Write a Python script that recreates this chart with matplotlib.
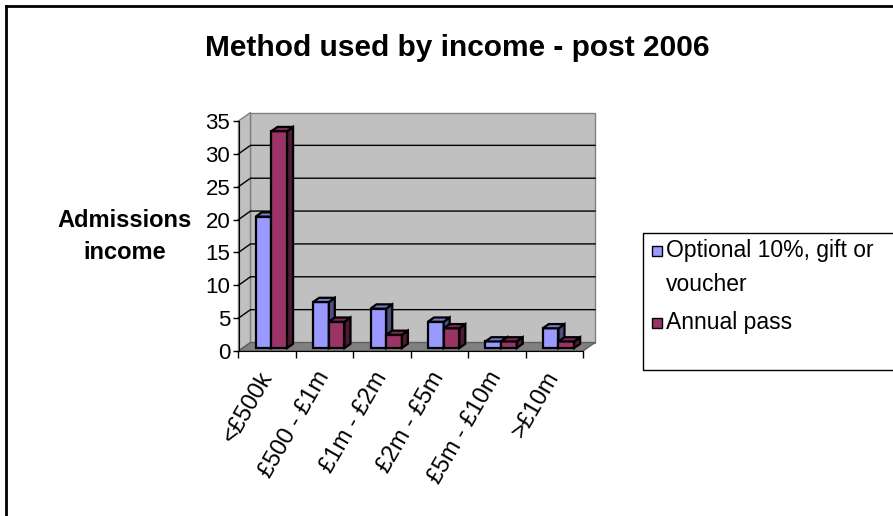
"""Clustered 3D-style bar chart: method used by income, post 2006."""

import matplotlib

matplotlib.use("Agg")
import matplotlib.pyplot as plt
import numpy as np
from matplotlib.lines import Line2D
from matplotlib.patches import Polygon, Rectangle

plt.rcParams["font.family"] = ["Liberation Sans", "DejaVu Sans"]

# Data
categories = ["<£500k", "£500 - £1m", "£1m - £2m", "£2m - £5m", "£5m - £10m", ">£10m"]
series_names = ["Optional 10%, gift or\nvoucher", "Annual pass"]
optional_values = [20, 7, 6, 4, 1, 3]
annual_values = [33, 4, 2, 3, 1, 1]
y_ticks = [0, 5, 10, 15, 20, 25, 30, 35]

# Excel-like colours: front face, side face, top face
front_colors = ["#9999FF", "#9A3366"]
side_colors = ["#4D4D80", "#4D1A33"]
top_colors = ["#7A7ACC", "#7A2952"]
wall_color = "#C0C0C0"
floor_color = "#808080"

W, H, DPI = 893, 516, 100
fig = plt.figure(figsize=(W / DPI, H / DPI), dpi=DPI)

# Front plane of the plot area in pixels
left_px, right_px, zero_px, top_px = 238.5, 583.0, 351.0, 121.0
ax = fig.add_axes([
    left_px / W,
    1 - zero_px / H,
    (right_px - left_px) / W,
    (zero_px - top_px) / H,
])
ax.patch.set_visible(False)

x_min, x_max = -0.5, len(categories) - 0.5
y_max = y_ticks[-1]
ax.set_xlim(x_min, x_max)
ax.set_ylim(0, y_max)

# Depth of the fake 3D box, in data units (about 12 px right, 8.5 px up)
px_x = (right_px - left_px) / (x_max - x_min)
px_y = (zero_px - top_px) / y_max
dx, dy = 12 / px_x, 8.5 / px_y

# Back wall, left wall and floor
ax.add_patch(Rectangle((x_min + dx, dy), x_max - x_min, y_max, facecolor=wall_color,
                       edgecolor="#808080", lw=1, zorder=0.5, clip_on=False))
ax.add_patch(Polygon([(x_min, 0), (x_min + dx, dy), (x_min + dx, y_max + dy), (x_min, y_max)],
                     closed=True, facecolor=wall_color, edgecolor="#808080", lw=1,
                     zorder=0.6, clip_on=False))

# Gridlines across left wall and back wall
for v in y_ticks[1:-1]:
    ax.plot([x_min, x_min + dx, x_max + dx], [v, v + dy, v + dy], color="black",
            lw=1, zorder=0.8, clip_on=False)

ax.add_patch(Polygon([(x_min, 0), (x_max, 0), (x_max + dx, dy), (x_min + dx, dy)],
                     closed=True, facecolor=floor_color, edgecolor="#606060", lw=1,
                     zorder=0.9, clip_on=False))

# Bars sit a little way back inside the box
bar_width = 0.273
shift_x, shift_y = 0.35 * dx, 0.35 * dy
bar_dx, bar_dy = 0.5 * dx, 0.5 * dy

x = np.arange(len(categories))
for i, values in enumerate([optional_values, annual_values]):
    offset = (i - 0.5) * bar_width + shift_x
    bars = ax.bar(x + offset, values, width=bar_width, bottom=shift_y,
                  color=front_colors[i], edgecolor="black", lw=1.6,
                  zorder=3 + i, clip_on=False)
    for bar in bars:
        x0, y0 = bar.get_x(), bar.get_y()
        w, h = bar.get_width(), bar.get_height()
        top = y0 + h
        # side face
        ax.add_patch(Polygon([(x0 + w, y0), (x0 + w + bar_dx, y0 + bar_dy),
                              (x0 + w + bar_dx, top + bar_dy), (x0 + w, top)],
                             closed=True, facecolor=side_colors[i], edgecolor="black",
                             lw=1.6, zorder=3 + i, clip_on=False))
        # top face
        ax.add_patch(Polygon([(x0, top), (x0 + w, top), (x0 + w + bar_dx, top + bar_dy),
                              (x0 + bar_dx, top + bar_dy)],
                             closed=True, facecolor=top_colors[i], edgecolor="black",
                             lw=1.6, zorder=3 + i, clip_on=False))

# Axes styling
for side in ["top", "right"]:
    ax.spines[side].set_visible(False)
ax.spines["left"].set_color("black")
ax.spines["bottom"].set_color("black")
ax.spines["left"].set_zorder(2)
ax.spines["bottom"].set_zorder(2)

ax.set_yticks(y_ticks)
ax.tick_params(axis="y", direction="out", length=4, width=1, pad=2, labelsize=16)

# Ticks between categories, labels at category centres
ax.set_xticks(np.arange(len(categories) + 1) - 0.5)
ax.set_xticklabels([])
ax.tick_params(axis="x", which="major", direction="out", length=5, width=1)
ax.set_xticks(x, labels=categories, minor=True)
ax.tick_params(axis="x", which="minor", length=0, pad=16, labelsize=17)
for label in ax.get_xticklabels(minor=True):
    label.set_rotation(60)
    label.set_ha("right")
    label.set_va("center")
    label.set_rotation_mode("anchor")

# Title and axis label
fig.text(457 / W, 1 - 48 / H, "Method used by income - post 2006", ha="center",
         va="center", fontsize=21.5, fontweight="bold")
fig.text(125 / W, 1 - 237 / H, "Admissions\nincome", ha="center", va="center",
         fontsize=17, fontweight="bold", linespacing=1.5)

# Legend box running off the right edge
fig.add_artist(Rectangle((643 / W, 1 - 370 / H), 400 / W, 137 / H, transform=fig.transFigure,
                         facecolor="none", edgecolor="black", lw=1))
legend_y = [251, 323]
for name, color, ly in zip(series_names, front_colors, legend_y):
    fig.add_artist(Rectangle((652 / W, 1 - (ly + 5) / H), 10 / W, 10 / H,
                             transform=fig.transFigure, facecolor=color,
                             edgecolor="black", lw=1))
    fig.text(666 / W, 1 - (ly - 12) / H, name, ha="left", va="top", fontsize=16.5,
             linespacing=1.6)

# Outer chart border (left and top visible)
fig.add_artist(Line2D([6 / W, 6 / W], [0, 1 - 6 / H], transform=fig.transFigure,
                      color="black", lw=2))
fig.add_artist(Line2D([6 / W, 1], [1 - 6 / H, 1 - 6 / H], transform=fig.transFigure,
                      color="black", lw=2))

fig.savefig("out.png", dpi=DPI)
